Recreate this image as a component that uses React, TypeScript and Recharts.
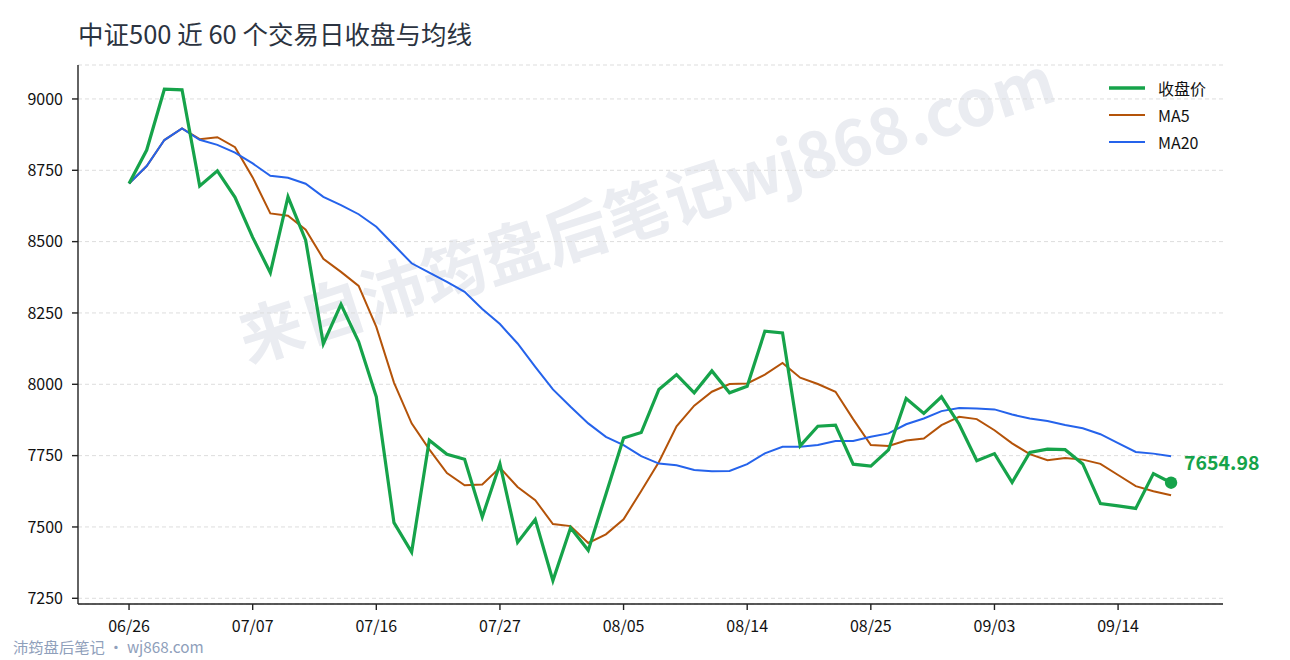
import React from 'react';
import { LineChart, Line, XAxis, YAxis, CartesianGrid } from 'recharts';

const dates = [
  '06/26', '06/29', '06/30', '07/01', '07/02', '07/03', '07/06', '07/07', '07/08', '07/09',
  '07/10', '07/13', '07/14', '07/15', '07/16', '07/17', '07/20', '07/21', '07/22', '07/23',
  '07/24', '07/27', '07/28', '07/29', '07/30', '07/31', '08/03', '08/04', '08/05', '08/06',
  '08/07', '08/10', '08/11', '08/12', '08/13', '08/14', '08/17', '08/18', '08/19', '08/20',
  '08/21', '08/24', '08/25', '08/26', '08/27', '08/28', '08/31', '09/01', '09/02', '09/03',
  '09/04', '09/07', '09/08', '09/09', '09/10', '09/11', '09/14', '09/15', '09/16', '09/17',
];

const closeValues = [
  8704, 8821, 9034, 9032, 8695, 8748, 8655, 8515, 8391, 8657,
  8505, 8142, 8280, 8149, 7956, 7515, 7412, 7804, 7755, 7737,
  7535, 7721, 7446, 7526, 7312, 7497, 7418, 7615, 7812, 7831,
  7982, 8034, 7970, 8047, 7970, 7993, 8186, 8180, 7784, 7853,
  7857, 7720, 7713, 7770, 7950, 7898, 7956, 7860, 7732, 7757,
  7656, 7761, 7773, 7771, 7721, 7582, 7574, 7565, 7687, 7654.98,
];

const ma5Values = [
  8704, 8765, 8856, 8897, 8859, 8866, 8831, 8725, 8599, 8591,
  8542, 8440, 8394, 8345, 8201, 8006, 7863, 7772, 7689, 7646,
  7649, 7708, 7640, 7594, 7510, 7503, 7444, 7474, 7527, 7626,
  7728, 7853, 7925, 7974, 8001, 8003, 8034, 8075, 8023, 8001,
  7974, 7878, 7787, 7784, 7803, 7810, 7857, 7886, 7878, 7839,
  7793, 7755, 7734, 7742, 7736, 7721, 7682, 7643, 7625, 7611,
];

const ma20Values = [
  8704, 8765, 8856, 8897, 8857, 8839, 8812, 8774, 8731, 8724,
  8703, 8657, 8628, 8596, 8552, 8488, 8424, 8391, 8359, 8324,
  8264, 8211, 8143, 8061, 7982, 7921, 7863, 7816, 7787, 7748,
  7722, 7716, 7700, 7695, 7696, 7720, 7758, 7781, 7781, 7787,
  7801, 7801, 7816, 7828, 7860, 7880, 7906, 7917, 7915, 7912,
  7894, 7880, 7871, 7857, 7846, 7825, 7794, 7763, 7757, 7748,
];

const xTickIndices = [0, 7, 14, 21, 28, 35, 42, 49, 56];
const yTicks = [7250, 7500, 7750, 8000, 8250, 8500, 8750, 9000];

const seriesNames = ['收盘价', 'MA5', 'MA20'];

const data = dates.map((d, i) => ({
  i,
  date: d,
  close: closeValues[i],
  ma5: ma5Values[i],
  ma20: ma20Values[i],
}));

const FONT = '"Noto Sans CJK SC", "Noto Sans", sans-serif';
const GREEN = '#16a34a';
const ORANGE = '#b45309';
const BLUE = '#2563eb';
const AXIS = '#222222';

const EndDot = (props: any) => {
  const { cx, cy, index, payload } = props;
  if (index !== data.length - 1) return <g key={`d${index}`} />;
  return (
    <g key={`d${index}`}>
      <circle cx={cx} cy={cy} r={6.2} fill={GREEN} />
      <text x={cx + 13} y={cy - 12.5} fill={GREEN} fontSize={19.5} fontWeight={700} fontFamily={FONT}>
        {payload.close.toFixed(2)}
      </text>
    </g>
  );
};

const legendItems = [
  { name: seriesNames[0], color: GREEN, w: 3.5 },
  { name: seriesNames[1], color: ORANGE, w: 2.2 },
  { name: seriesNames[2], color: BLUE, w: 2.2 },
];

export default function App() {
  return (
    <div style={{ position: 'absolute', left: 0, top: 0, width: 1290, height: 660, background: '#fff', overflow: 'hidden' }}>
      <svg width={1290} height={660} style={{ position: 'absolute', left: 0, top: 0 }}>
        <text
          x={645}
          y={205}
          textAnchor="middle"
          dominantBaseline="central"
          transform="rotate(-18 645 205)"
          fontSize={64}
          fontWeight={700}
          fontFamily={FONT}
          fill="#eaecf1"
        >
          来自沛筠盘后笔记wj868.com
        </text>
        <text x={78} y={44} fontSize={25.5} fontFamily={FONT} fill="#2b3340">
          中证500 近 60 个交易日收盘与均线
        </text>
        <text x={13} y={653} fontSize={15.3} fontFamily={FONT} fill="#8fa0bb">
          沛筠盘后笔记 · wj868.com
        </text>
      </svg>
      <div style={{ position: 'absolute', left: 0, top: 0 }}>
        <LineChart width={1290} height={660} data={data} margin={{ top: 65, right: 67, bottom: 26, left: 0 }}>
          <CartesianGrid vertical={false} strokeDasharray="4 3" stroke="#dddddd" />
          <XAxis
            type="number"
            dataKey="i"
            domain={[-2.89, 61.94]}
            ticks={xTickIndices}
            tickFormatter={(v: number) => dates[v]}
            height={30}
            tickSize={6}
            tickMargin={11}
            axisLine={{ stroke: AXIS, strokeWidth: 1.4 }}
            tickLine={{ stroke: AXIS, strokeWidth: 1.4 }}
            tick={{ fill: '#111', fontSize: 16, fontFamily: FONT }}
          />
          <YAxis
            domain={[7230, 9119]}
            ticks={yTicks}
            width={78}
            tickSize={6}
            tickMargin={9}
            axisLine={{ stroke: AXIS, strokeWidth: 1.4 }}
            tickLine={{ stroke: AXIS, strokeWidth: 1.4 }}
            tick={{ fill: '#111', fontSize: 16, fontFamily: FONT }}
          />
          <Line type="linear" dataKey="ma5" name={seriesNames[1]} stroke={ORANGE} strokeWidth={2} dot={false} isAnimationActive={false} />
          <Line type="linear" dataKey="ma20" name={seriesNames[2]} stroke={BLUE} strokeWidth={2} dot={false} isAnimationActive={false} />
          <Line type="linear" dataKey="close" name={seriesNames[0]} stroke={GREEN} strokeWidth={3.2} dot={EndDot} activeDot={false} isAnimationActive={false} />
        </LineChart>
      </div>
      <div style={{ position: 'absolute', left: 1109, top: 75, fontFamily: FONT }}>
        {legendItems.map((it) => (
          <div key={it.name} style={{ display: 'flex', alignItems: 'center', height: 26.7 }}>
            <svg width={49} height={10}>
              <line x1={0} y1={5} x2={36} y2={5} stroke={it.color} strokeWidth={it.w} />
            </svg>
            <span style={{ fontSize: 16, color: '#111', lineHeight: '20px' }}>{it.name}</span>
          </div>
        ))}
      </div>
    </div>
  );
}
